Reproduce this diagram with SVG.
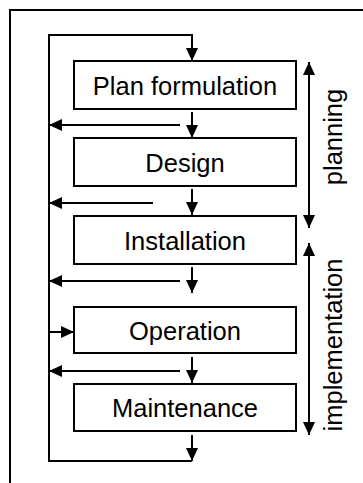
<svg xmlns="http://www.w3.org/2000/svg" width="363" height="483" viewBox="0 0 363 483">
<defs>
<style>
.box{fill:#fff;stroke:#000;stroke-width:2}
.ln{fill:none;stroke:#000;stroke-width:2}
.arr{fill:none;stroke:#000;stroke-width:2;marker-end:url(#ah)}
.t{font-family:"Liberation Sans",Arial,sans-serif;font-size:25.5px;fill:#000;text-anchor:middle}
</style>
<marker id="ah" viewBox="0 0 13 12" refX="13" refY="6" markerWidth="13" markerHeight="12" orient="auto" markerUnits="userSpaceOnUse">
<path d="M0,0 L13,6 L0,12 z" fill="#000"/>
</marker>
</defs>
<rect width="363" height="483" fill="#fff"/>
<g id="frame">
<path class="ln" d="M10,483 V10 H363"/>
</g>
<g id="connectors">
<path class="arr" d="M49,125 V35 H192 V61"/>
<path class="ln" d="M49,125 V461 H192"/>
<path class="arr" d="M192,435 V461"/>
<path class="arr" d="M192,112 V138"/>
<path class="arr" d="M180,125 H49"/>
<path class="arr" d="M192,189 V215"/>
<path class="arr" d="M153,203 H49"/>
<path class="arr" d="M192,267 V293"/>
<path class="arr" d="M180,281 H49"/>
<path class="arr" d="M49,332 H74"/>
<path class="arr" d="M192,357 V383"/>
<path class="arr" d="M180,371 H49"/>
<path class="arr" d="M309,140 V62"/>
<path class="arr" d="M309,140 V228"/>
<path class="arr" d="M309,340 V243"/>
<path class="arr" d="M309,340 V435"/>
</g>
<g id="plan">
<rect class="box" x="74" y="61" width="222" height="48"/>
<text class="t" x="185" y="95">Plan formulation</text>
</g>
<g id="design">
<rect class="box" x="74" y="138" width="222" height="48"/>
<text class="t" x="185" y="172">Design</text>
</g>
<g id="installation">
<rect class="box" x="74" y="216" width="222" height="48"/>
<text class="t" x="185" y="250">Installation</text>
</g>
<g id="operation">
<rect class="box" x="74" y="307" width="222" height="46"/>
<text class="t" x="185" y="340">Operation</text>
</g>
<g id="maintenance">
<rect class="box" x="74" y="384" width="222" height="47"/>
<text class="t" x="185" y="417">Maintenance</text>
</g>
<g id="labels">
<text class="t" transform="translate(342,137) rotate(-90)">planning</text>
<text class="t" transform="translate(342,345) rotate(-90)">implementation</text>
</g>
</svg>
